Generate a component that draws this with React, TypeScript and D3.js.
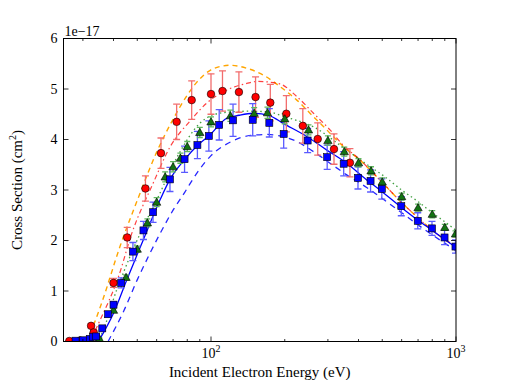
import React from "react";
import * as d3 from "d3";

// ---------- data ----------
const redE = [26.4, 29.2, 32.4, 33.2, 40, 45.5, 54, 62.5, 72.4, 83.4, 100, 111.4, 130, 152, 174.6, 203, 237, 272.6, 317.7, 369];
const redY = [0.01, 0.02, 0.31, 0.18, 1.16, 2.06, 3.03, 3.73, 4.35, 4.78, 4.9, 4.96, 4.94, 4.84, 4.73, 4.51, 4.27, 4.01, 3.81, 3.54];
const redErr = [0.01, 0.01, 0.04, 0.04, 0.09, 0.2, 0.25, 0.3, 0.35, 0.38, 0.4, 0.4, 0.4, 0.4, 0.36, 0.36, 0.34, 0.32, 0.3, 0.28];

const blueE = [28, 30, 32, 33, 34, 36, 38, 40, 43, 48, 53, 58, 68, 78, 88, 98, 108, 123, 148, 173, 198, 248, 298, 348, 398, 448, 498, 598, 698, 798, 898, 995];
const blueY = [0.016, 0.024, 0.05, 0.095, 0.1, 0.26, 0.54, 0.73, 1.16, 1.78, 2.2, 2.56, 3.21, 3.61, 3.89, 4.07, 4.29, 4.38, 4.39, 4.33, 4.11, 3.98, 3.65, 3.52, 3.24, 3.18, 3.02, 2.68, 2.39, 2.24, 2.06, 1.88];
const blueErr = [0.005, 0.005, 0.01, 0.01, 0.01, 0.03, 0.05, 0.06, 0.1, 0.18, 0.18, 0.2, 0.24, 0.26, 0.27, 0.3, 0.3, 0.32, 0.32, 0.28, 0.28, 0.24, 0.24, 0.24, 0.22, 0.22, 0.2, 0.19, 0.16, 0.14, 0.14, 0.13];

const greenE = [35, 40, 45, 50, 55, 60, 65, 70, 75, 80, 90, 100, 120, 150, 170, 200, 250, 300, 350, 400, 450, 500, 600, 700, 800, 900, 995];
const greenY = [0.06, 0.62, 1.27, 1.83, 2.35, 2.76, 3.26, 3.46, 3.63, 3.86, 4.14, 4.35, 4.47, 4.52, 4.53, 4.41, 4.19, 3.98, 3.76, 3.54, 3.38, 3.16, 2.87, 2.65, 2.52, 2.26, 2.13];
const greenErr = [0.01, 0.03, 0.05, 0.06, 0.08, 0.09, 0.1, 0.1, 0.1, 0.1, 0.1, 0.1, 0.11, 0.11, 0.11, 0.1, 0.1, 0.09, 0.09, 0.08, 0.08, 0.08, 0.07, 0.07, 0.07, 0.06, 0.06];

const orangeE = [31, 33, 36, 42.5, 51, 60, 70, 80, 90, 100, 110, 120, 140, 163, 191, 224, 262, 297, 347, 406, 460, 500, 600, 700, 800, 900, 1000];
const orangeY = [0, 0.3, 0.8, 1.88, 2.9, 3.75, 4.4, 4.88, 5.2, 5.38, 5.45, 5.47, 5.41, 5.28, 5.05, 4.78, 4.45, 4.19, 3.86, 3.59, 3.33, 3.15, 2.75, 2.45, 2.2, 2.02, 1.88];

const redCurveE = [32, 35.3, 41.9, 47.5, 58, 68, 83, 96, 116, 140, 155, 191, 224, 262, 306, 347, 406, 460, 500, 600, 700, 800, 900, 1000];
const redCurveY = [0, 0.43, 1.28, 2.14, 3.13, 3.85, 4.39, 4.72, 4.98, 5.11, 5.15, 5.1, 4.85, 4.52, 4.19, 3.88, 3.6, 3.33, 3.15, 2.75, 2.45, 2.2, 2.02, 1.88];

const greenCurveE = [34, 35.3, 41.2, 52.9, 60, 73.6, 90, 102, 123, 140, 169, 200, 262, 358, 450, 500, 600, 700, 800, 900, 1000];
const greenCurveY = [0, 0.1, 1.02, 2.27, 2.8, 3.7, 4.32, 4.49, 4.55, 4.56, 4.55, 4.45, 4.25, 3.79, 3.45, 3.3, 3.0, 2.77, 2.55, 2.37, 2.2];

const blueSolidE = [34.7, 40, 45.3, 52.9, 61.9, 68, 78, 88, 98, 116, 130, 149, 174, 197, 246, 297, 358, 432, 489, 600, 700, 800, 900, 1000];
const blueSolidY = [0, 0.56, 1.22, 2.01, 2.8, 3.21, 3.6, 3.88, 4.07, 4.42, 4.48, 4.52, 4.47, 4.32, 4.06, 3.79, 3.53, 3.2, 3.0, 2.65, 2.4, 2.2, 2.02, 1.86];

const blueDashE = [38, 44, 50, 56, 62, 70, 78, 88, 100, 120, 145, 170, 191, 224, 262, 306, 358, 432, 538, 733, 1000];
const blueDashY = [0, 0.6, 1.22, 1.72, 2.14, 2.6, 2.95, 3.35, 3.68, 3.95, 4.08, 4.1, 4.07, 3.96, 3.76, 3.53, 3.3, 3.05, 2.72, 2.24, 1.8];

const yTicks = [0, 1, 2, 3, 4, 5, 6];
const xMajor = [100, 1000];
const xMajorExp = ["2", "3"];
const xMinor = [30, 40, 50, 60, 70, 80, 90, 200, 300, 400, 500, 600, 700, 800, 900];

// ---------- layout ----------
const W = 507, H = 380;
const L = 63.5, R = 456, T = 38.5, B = 341.5;
const FONT = "'Liberation Serif', 'DejaVu Serif', serif";

export default function App() {
  const x = d3.scaleLog().domain([25, 1000]).range([L, R]);
  const y = d3.scaleLinear().domain([0, 6]).range([B, T]);

  const mk = (E: number[], Y: number[]) => {
    const line = d3.line<number>().x((_, i) => x(E[i])).y((_, i) => y(Y[i])).curve(d3.curveMonotoneX);
    return line(E) || "";
  };

  const curves = [
    { d: mk(orangeE, orangeY), stroke: "#ffa500", dash: "5,4", w: 1.4, o: 1 },
    { d: mk(redCurveE, redCurveY), stroke: "#ff0000", dash: "5,3,1.5,3", w: 1.2, o: 0.75 },
    { d: mk(greenCurveE, greenCurveY), stroke: "#008000", dash: "1.5,3", w: 1.3, o: 0.75 },
    { d: mk(blueSolidE, blueSolidY), stroke: "#0000ff", dash: undefined, w: 1.3, o: 1 },
    { d: mk(blueDashE, blueDashY), stroke: "#0000ff", dash: "6,5", w: 1.3, o: 0.85 },
  ];

  const errbars = (E: number[], Y: number[], Er: number[], color: string, cap: number) =>
    E.map((e, i) => {
      const cx = x(e), y1 = y(Y[i] + Er[i]), y2 = y(Y[i] - Er[i]);
      return (
        <g key={i} stroke={color} strokeWidth={1.3}>
          <line x1={cx} x2={cx} y1={y1} y2={y2} />
          <line x1={cx - cap} x2={cx + cap} y1={y1} y2={y1} />
          <line x1={cx - cap} x2={cx + cap} y1={y2} y2={y2} />
        </g>
      );
    });

  const tri = d3.symbol().type(d3.symbolTriangle).size(30)();

  return (
    <svg width={W} height={H} style={{ position: "absolute", left: 0, top: 0, background: "#fff" }} fontFamily={FONT}>
      <defs>
        <clipPath id="plot">
          <rect x={L} y={T} width={R - L} height={B - T} />
        </clipPath>
      </defs>
      <rect x={0} y={0} width={W} height={H} fill="#fff" />
      <g clipPath="url(#plot)">
        {curves.map((c, i) => (
          <path key={i} d={c.d} fill="none" stroke={c.stroke} strokeOpacity={c.o} strokeWidth={c.w} strokeDasharray={c.dash} />
        ))}
        {errbars(redE, redY, redErr, "#f26d6d", 3.5)}
        {errbars(blueE, blueY, blueErr, "#5a5aff", 3.5)}
        {errbars(greenE, greenY, greenErr, "#5fb85f", 3)}
        {redE.map((e, i) => (
          <circle key={i} cx={x(e)} cy={y(redY[i])} r={3.8} fill="#ff0000" stroke="#000" strokeWidth={0.6} />
        ))}
        {greenE.map((e, i) => (
          <path key={i} d={tri || ""} transform={`translate(${x(e)},${y(greenY[i]) + 0.7})`} fill="#137313" stroke="#000" strokeWidth={0.6} />
        ))}
        {blueE.map((e, i) => (
          <rect key={i} x={x(e) - 3.5} y={y(blueY[i]) - 3.5} width={7} height={7} fill="#0000ff" stroke="#000" strokeWidth={0.6} />
        ))}
      </g>

      {/* ticks */}
      <g stroke="#000" strokeWidth={0.8}>
        {yTicks.map((t) => (
          <g key={t}>
            <line x1={L} x2={L + 5} y1={y(t)} y2={y(t)} />
            <line x1={R} x2={R - 5} y1={y(t)} y2={y(t)} />
          </g>
        ))}
        {xMajor.map((t) => (
          <g key={t}>
            <line x1={x(t)} x2={x(t)} y1={B} y2={B - 5} />
            <line x1={x(t)} x2={x(t)} y1={T} y2={T + 5} />
          </g>
        ))}
        {xMinor.map((t) => (
          <g key={t}>
            <line x1={x(t)} x2={x(t)} y1={B} y2={B - 2.5} />
            <line x1={x(t)} x2={x(t)} y1={T} y2={T + 2.5} />
          </g>
        ))}
      </g>
      <rect x={L} y={T} width={R - L} height={B - T} fill="none" stroke="#000" strokeWidth={1} />

      {/* tick labels */}
      <g fontSize={14} fill="#000">
        {yTicks.map((t) => (
          <text key={t} x={L - 6} y={y(t)} dy="0.35em" textAnchor="end">{t}</text>
        ))}
        {xMajor.map((t, i) => (
          <text key={t} x={x(t)} y={B + 16} textAnchor="middle">
            10<tspan dy={-6} fontSize={10}>{xMajorExp[i]}</tspan>
          </text>
        ))}
        <text x={L + 1} y={T - 3} fontSize={14}>1e−17</text>
      </g>

      {/* axis labels */}
      <text x={(L + R) / 2} y={B + 35} textAnchor="middle" fontSize={15}>Incident Electron Energy (eV)</text>
      <text transform={`translate(22,${(T + B) / 2}) rotate(-90)`} textAnchor="middle" fontSize={15}>
        Cross Section (cm<tspan dy={-6} fontSize={10}>2</tspan><tspan dy={6}>)</tspan>
      </text>
    </svg>
  );
}
